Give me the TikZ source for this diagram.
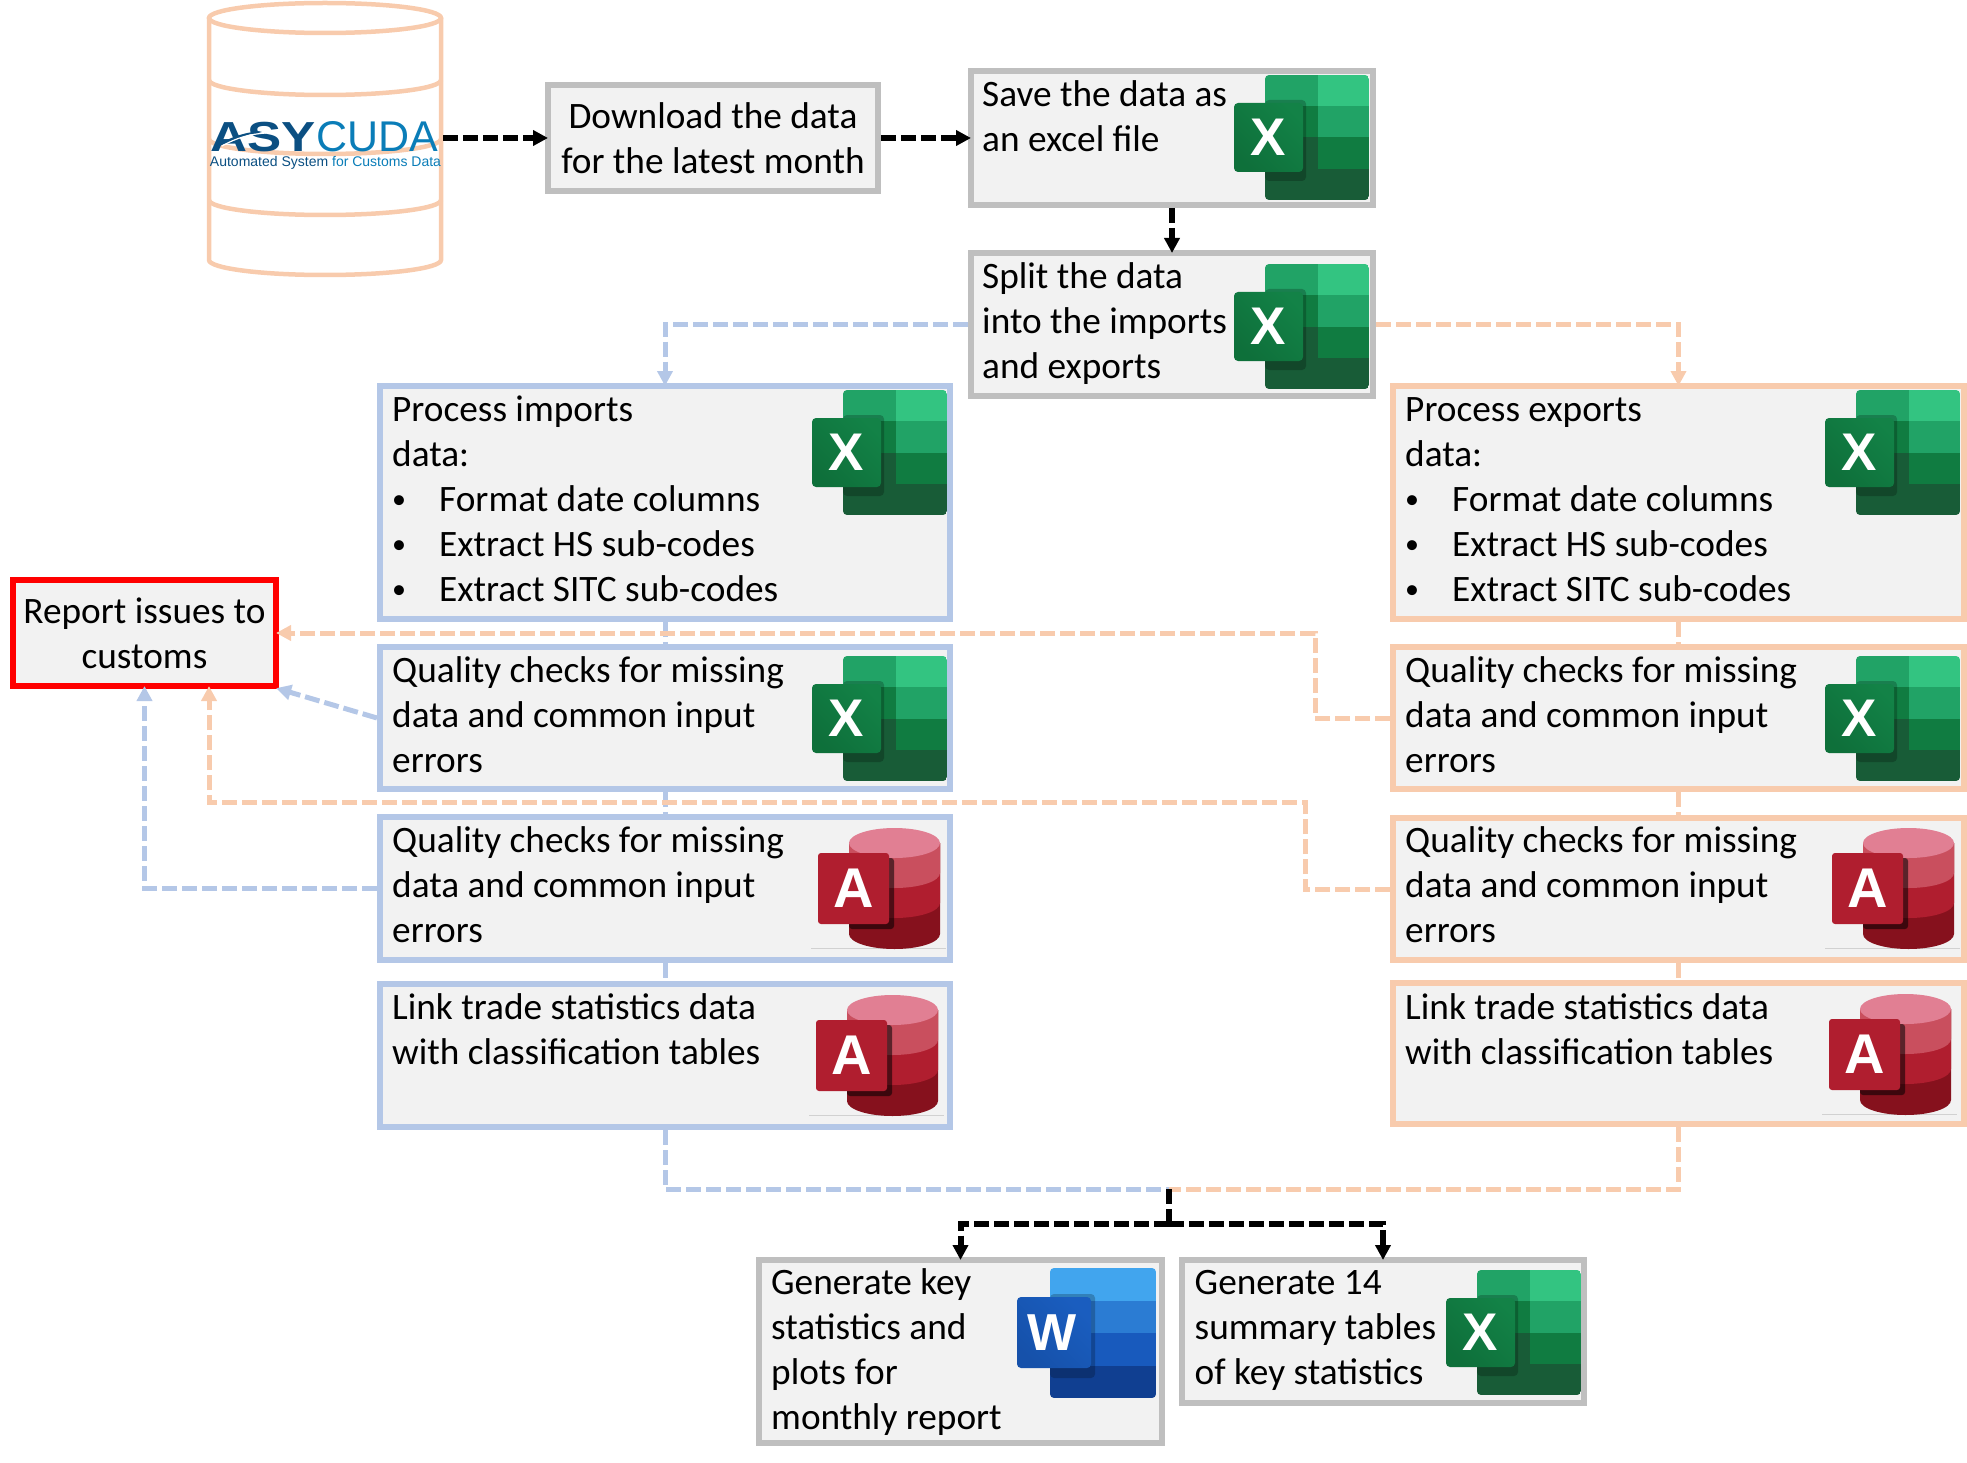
\documentclass[tikz,border=0pt]{standalone}
\usepackage{fontspec}
\setmainfont{Carlito}
\newfontfamily\libfont{Liberation Sans}
\newfontfamily\libwide[FakeStretch=1.22]{Liberation Sans}
\usetikzlibrary{arrows.meta}
\definecolor{boxgray}{HTML}{BFBFBF}
\definecolor{boxblue}{HTML}{B4C7E7}
\definecolor{boxorange}{HTML}{F8CBAD}
\definecolor{boxfill}{HTML}{F2F2F2}
\definecolor{xa}{HTML}{21A366}\definecolor{xb}{HTML}{33C481}\definecolor{xc}{HTML}{107C41}\definecolor{xd}{HTML}{185C37}
\definecolor{aa}{HTML}{E17F93}\definecolor{ab}{HTML}{C94F5E}\definecolor{ac}{HTML}{B01E2F}\definecolor{ad}{HTML}{86111D}
\definecolor{wa}{HTML}{41A5EE}\definecolor{wb}{HTML}{2B7CD3}\definecolor{wc}{HTML}{185ABD}\definecolor{wd}{HTML}{103F91}
\definecolor{logodark}{HTML}{0B4F82}\definecolor{logolight}{HTML}{0A7DB8}
\tikzset{
  graybox/.style={draw=boxgray,fill=boxfill,line width=6pt,inner sep=0pt},
  bluebox/.style={draw=boxblue,fill=boxfill,line width=6pt,inner sep=0pt},
  orangebox/.style={draw=boxorange,fill=boxfill,line width=6pt,inner sep=0pt},
  redbox/.style={draw=red,fill=boxfill,line width=6pt,inner sep=0pt},
  lefttext/.style={anchor=north west,align=left,inner sep=0pt,font=\fontsize{37.3}{45}\selectfont},
  midtext/.style={anchor=north,align=center,inner sep=0pt,font=\fontsize{37.3}{45}\selectfont},
  flowlink/.style={line width=5pt,dash pattern=on 15pt off 5pt},
  blacklink/.style={flowlink,draw=black,line width=6pt},
  bluelink/.style={flowlink,draw=boxblue},
  orangelink/.style={flowlink,draw=boxorange},
  tipped/.style={-{Triangle[length=15pt,width=15pt]},shorten >=-3pt},
  dbline/.style={draw=boxorange,line width=4.5pt},
  iconletter/.style={text=white,inner sep=0pt,font=\libfont\bfseries\fontsize{#1}{#1}\selectfont},
}
\newcommand\flowbox[6]{%
  \pgfmathsetmacro\bcx{(#3+#5)/2}\pgfmathsetmacro\bcy{(#4+#6)/2}%
  \pgfmathsetmacro\bw{#5-#3-6}\pgfmathsetmacro\bh{#6-#4-6}%
  \node[#2,minimum width=\bw pt,minimum height=\bh pt] (#1) at (\bcx,\bcy) {};}
\newcommand\ltext[4]{\pgfmathsetmacro\ty{#3-29}\node[lefttext] (#1) at (#2,\ty) {\rule{0pt}{30pt}#4};}
\newcommand\ctext[4]{\pgfmathsetmacro\ty{#3-29}\node[midtext] (#1) at (#2,\ty) {\rule{0pt}{30pt}#4};}
\newcommand\bul{\makebox[47pt][l]{\raisebox{3pt}{\fontsize{28}{28}\selectfont •}}}
\newcommand\excelicon[3]{%
\begin{scope}[shift={(#2,#3)}]
  \begin{scope}
    \clip[rounded corners=4pt] (31,0) rectangle (135,125);
    \fill[xa] (31,0) rectangle (84,31.25);
    \fill[xb] (84,0) rectangle (135,31.25);
    \fill[xc] (31,31.25) rectangle (84,62.5);
    \fill[xa] (84,31.25) rectangle (135,62.5);
    \fill[xd] (31,62.5) rectangle (84,93.75);
    \fill[xc] (84,62.5) rectangle (135,93.75);
    \fill[xd] (31,93.75) rectangle (135,125);
    \fill[black,opacity=.22,rounded corners=4pt] (31,25) rectangle (72,106);
  \end{scope}
  \shade[left color=xc!85!xa,right color=xc!90!black,shading angle=-45,rounded corners=4pt] (0,28) rectangle (69,97);
  \node[iconletter=53] (#1) at (34.5,62.5) {X};
\end{scope}}
\newcommand\accessicon[3]{%
\begin{scope}[shift={(#2,#3)}]
  \draw[black!18,line width=1pt] (-7,120) -- (128,120);
  \fill[ad] (31,15) -- (31,106) arc[start angle=180,end angle=360,x radius=45.5pt,y radius=15pt] -- (122,15) -- cycle;
  \fill[ac] (31,15) -- (31,75) arc[start angle=180,end angle=360,x radius=45.5pt,y radius=15pt] -- (122,15) -- cycle;
  \fill[ab] (31,15) -- (31,45) arc[start angle=180,end angle=360,x radius=45.5pt,y radius=15pt] -- (122,15) -- cycle;
  \fill[aa] (76.5,15) ellipse[x radius=45.5pt,y radius=15pt];
  \fill[black,opacity=.55,rounded corners=3pt] (31,30) rectangle (76,101);
  \fill[ac,rounded corners=3pt] (0,25) rectangle (71,96);
  \node[iconletter=56] (#1) at (35.5,60.5) {A};
\end{scope}}
\newcommand\wordicon[3]{%
\begin{scope}[shift={(#2,#3)}]
  \begin{scope}
    \clip[rounded corners=4pt] (33,0) rectangle (139,130);
    \fill[wa] (33,0) rectangle (139,32.5);
    \fill[wb] (33,32.5) rectangle (139,65);
    \fill[wc] (33,65) rectangle (139,97.5);
    \fill[wd] (33,97.5) rectangle (139,130);
    \fill[black,opacity=.22,rounded corners=4pt] (33,26) rectangle (78,110);
  \end{scope}
  \shade[left color=wc!90!wb,right color=wc!90!black,shading angle=-45,rounded corners=4pt] (0,29) rectangle (74,100);
  \node[iconletter=52] (#1) at (35,64.5) {W};
\end{scope}}
\begin{document}
\begin{tikzpicture}[x=1pt,y=-1pt]
\useasboundingbox (0,0) rectangle (1967,1463);
% database cylinder
\draw[dbline] (325,18) ellipse[x radius=116pt,y radius=15pt];
\draw[dbline,line cap=round] (209,18) -- (209,260) arc[start angle=180,end angle=360,x radius=116pt,y radius=15pt] -- (441,18);
\foreach \yy in {80,139,200}
  \draw[dbline] (209,\yy) arc[start angle=180,end angle=360,x radius=116pt,y radius=15pt];
\node[inner sep=0pt,minimum width=236pt,minimum height=100pt] (asy) at (325,138) {};
\node[inner sep=0pt,anchor=base east,text=logodark,font=\libwide\bfseries\fontsize{42}{42}\selectfont] (asyA) at (316,152) {ASY};
\node[inner sep=0pt,anchor=base west,text=logolight,font=\libfont\fontsize{43}{43}\selectfont] (asyB) at (316,152) {CUDA};
\fill[logodark] (212,150) .. controls (225,138) and (245,132) .. (262,131) .. controls (246,135) and (226,142) .. (212,150);
\draw[white,line width=1.2pt] (222,146) .. controls (236,138) and (250,134) .. (266,133);
\node[inner sep=0pt,anchor=base,font=\libfont\fontsize{14}{14}\selectfont] (asyC) at (325.5,167) {\textcolor{logodark}{Automated System} \textcolor{logolight}{for Customs Data}};
% boxes
\flowbox{download}{graybox}{545}{82}{881}{194}
\flowbox{savebox}{graybox}{968}{68}{1376}{208}
\flowbox{splitbox}{graybox}{968}{250}{1376}{399}
\flowbox{procimp}{bluebox}{377}{383}{953}{622}
\flowbox{qaimp}{bluebox}{377}{644}{953}{792}
\flowbox{qbimp}{bluebox}{377}{814}{953}{963}
\flowbox{linkimp}{bluebox}{377}{981}{953}{1130}
\flowbox{procexp}{orangebox}{1390}{383}{1967}{622}
\flowbox{qaexp}{orangebox}{1390}{644}{1967}{792}
\flowbox{qbexp}{orangebox}{1390}{815}{1967}{963}
\flowbox{linkexp}{orangebox}{1390}{980}{1967}{1127}
\flowbox{report}{redbox}{10}{577}{279}{689}
\flowbox{genkey}{graybox}{756}{1257}{1165}{1446}
\flowbox{gentab}{graybox}{1179}{1257}{1587}{1406}
% connectors
\coordinate (merge) at (1169,1189);
\coordinate (splitblack) at (1169,1224);
\draw[blacklink,tipped] (asy.east) -- (download.west);
\draw[blacklink,tipped] (download.east) -- (savebox.west);
\draw[blacklink,tipped] (savebox.south) -- (splitbox.north);
\draw[bluelink,tipped] (splitbox.west) -| (procimp.north);
\draw[orangelink,tipped] (splitbox.east) -| (procexp.north);
\draw[bluelink] (procimp.south) -- (qaimp.north);
\draw[bluelink] (qaimp.south) -- (qbimp.north);
\draw[bluelink] (qbimp.south) -- (linkimp.north);
\draw[orangelink] (procexp.south) -- (qaexp.north);
\draw[orangelink] (qaexp.south) -- (qbexp.north);
\draw[orangelink] (qbexp.south) -- (linkexp.north);
\draw[bluelink,tipped] (qaimp.west) -- (report.south east);
\draw[bluelink,tipped] (qbimp.west) -| (report.south);
\coordinate (ora) at (1315,633);
\coordinate (orb) at (1305,802);
\coordinate (orc) at (209,802);
\coordinate (ord) at (209,689);
\draw[orangelink,tipped] (qaexp.west) -| (ora) -- (report.east);
\draw[orangelink,tipped] (qbexp.west) -| (orb) -- (orc) -- (ord);
\draw[bluelink] (linkimp.south) |- (merge);
\draw[orangelink] (linkexp.south) |- (merge);
\draw[blacklink] (merge) -- (splitblack);
\draw[blacklink,tipped] (splitblack) -| (genkey.north);
\draw[blacklink,tipped] (splitblack) -| (gentab.north);
% texts
\ctext{tdownload}{713}{127}{Download the data\\for the latest month}
\ltext{tsave}{982}{105}{Save the data as\\an excel file}
\ltext{tsplit}{982}{287}{Split the data\\into the imports\\and exports}
\ltext{tprocimp}{392}{420}{Process imports\\data:\\\bul Format date columns\\\bul Extract HS sub-codes\\\bul Extract SITC sub-codes}
\ltext{tqaimp}{392}{681}{Quality checks for missing\\data and common input\\errors}
\ltext{tqbimp}{392}{851}{Quality checks for missing\\data and common input\\errors}
\ltext{tlinkimp}{392}{1018}{Link trade statistics data\\with classification tables}
\ltext{tprocexp}{1405}{420}{Process exports\\data:\\\bul Format date columns\\\bul Extract HS sub-codes\\\bul Extract SITC sub-codes}
\ltext{tqaexp}{1405}{681}{Quality checks for missing\\data and common input\\errors}
\ltext{tqbexp}{1405}{851}{Quality checks for missing\\data and common input\\errors}
\ltext{tlinkexp}{1405}{1018}{Link trade statistics data\\with classification tables}
\ctext{treport}{144.5}{622}{Report issues to\\customs}
\ltext{tgenkey}{771}{1293}{Generate key\\statistics and\\plots for\\monthly report}
\ltext{tgentab}{1194.5}{1293}{Generate 14\\summary tables\\of key statistics}
% icons
\excelicon{xa}{1234}{75}
\excelicon{xb}{1234}{264}
\excelicon{xc}{812}{390}
\excelicon{xd}{812}{656}
\excelicon{xe}{1825}{390}
\excelicon{xf}{1825}{656}
\excelicon{xg}{1446}{1270}
\accessicon{aa}{818}{828}
\accessicon{ab}{816}{995}
\accessicon{ac}{1832}{828}
\accessicon{ad}{1829}{994}
\wordicon{wa}{1017}{1268}
\end{tikzpicture}
\end{document}
